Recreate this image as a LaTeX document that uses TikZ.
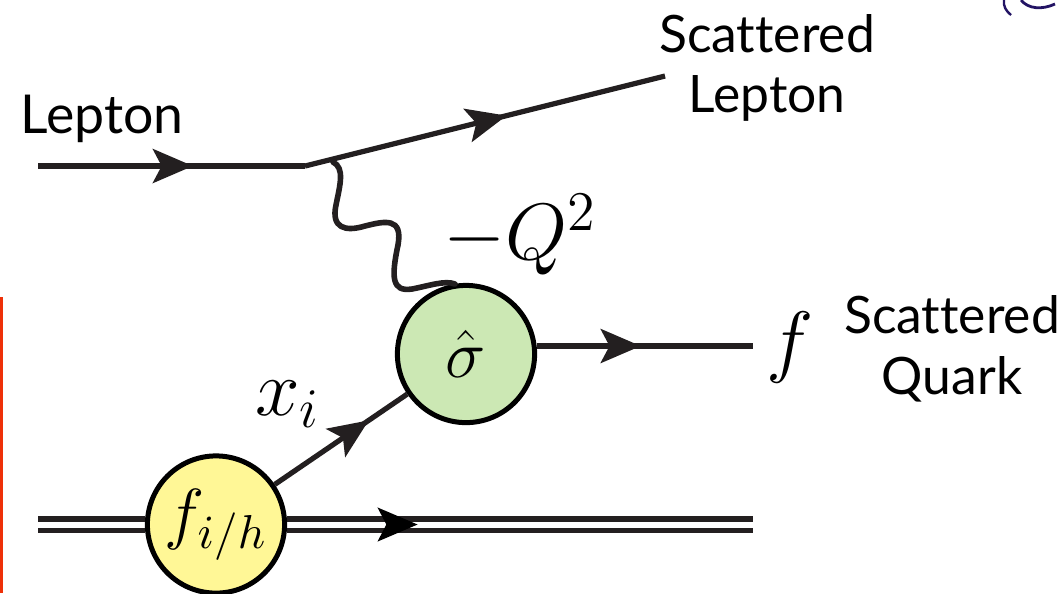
\documentclass[tikz,border=0pt]{standalone}
\usepackage{amsmath,amssymb}
\usepackage{xcolor}
\usepackage{fontspec}
\usepackage{fix-cm}
\setmainfont{Lato}[Ligatures=NoCommon]
\usetikzlibrary{arrows.meta,decorations.markings}
\definecolor{LineC}{RGB}{35,31,32}
\definecolor{HardC}{RGB}{204,232,180}
\definecolor{PdfC}{RGB}{255,247,150}
\definecolor{EdgeC}{RGB}{238,48,8}
\definecolor{MarkC}{RGB}{35,20,100}
\tikzset{
  blob/.style={circle,draw=black,line width=1.25pt,minimum size=34.3pt,inner sep=0pt,
               font=\fontsize{17}{19}\selectfont},
  label/.style={font=\fontsize{12.9}{15.2}\selectfont,align=center,text=black},
  mathlabel/.style={font=\fontsize{20}{22}\selectfont,text=black},
  fline/.style={line width=1.3pt,LineC},
  midtip/.style={postaction={decorate},decoration={markings,
      mark=at position #1 with {\arrow{Stealth[length=10pt,width=8.5pt,inset=2.2pt]}}}},
}
\begin{document}
\begin{tikzpicture}[x=0.25pt,y=-0.25pt]
  \useasboundingbox (0,0) rectangle (1061,593);
  % vertices
  \coordinate (lin) at (38,166);
  \coordinate (vtx) at (305,166);
  \coordinate (lout) at (665,76);
  \coordinate (qend) at (753,346);
  \coordinate (bt) at (38,524.5);
  \coordinate (be) at (753,524.5);
  \node[blob,fill=HardC] (hard) at (466,354) {$\hat\sigma$};
  \node[blob,fill=PdfC] (pdf) at (216,524.5) {$f_{i/h}$};
  % leptons
  \draw[fline,midtip=0.58] (lin) -- (vtx);
  \draw[fline,midtip=0.56] (vtx) -- (lout);
  % photon
  \coordinate (pha) at (333,162);
  \coordinate (phb) at (455,284);
  \draw[fline,line width=1.4pt,line cap=round] (pha) .. controls (345,168) and (340,185) .. (336,205)
    .. controls (331,228) and (345,232) .. (365,226)
    .. controls (385,221) and (403,217) .. (398,245)
    .. controls (391,278) and (392,292) .. (412,289)
    .. controls (428,286) and (445,280) .. (phb);
  % quarks
  \draw[fline,midtip=0.71] (pdf) -- (hard);
  \draw[fline,midtip=0.48] (hard.east) ++(0,-8) coordinate (hout) -- (qend);
  % beam
  \draw[fline] ([yshift=-1.4pt]bt) -- ([yshift=-1.4pt]pdf.west);
  \draw[fline] ([yshift=1.4pt]bt) -- ([yshift=1.4pt]pdf.west);
  \draw[fline] ([yshift=-1.4pt]pdf.east) -- ([yshift=-1.4pt]be);
  \draw[fline] ([yshift=1.4pt]pdf.east) -- ([yshift=1.4pt]be);
  \path[midtip=0.28] (pdf.east) -- (be);
  % texts
  \node[label,font=\fontsize{13.4}{15}\selectfont] (llep) at (102,119) {Lepton};
  \node[label] (slep) at (767,68) {Scattered\\Lepton};
  \node[label] (squark) at (952,349) {Scattered\\Quark};
  \node[mathlabel] (qsq) at (520,235) {$-Q^2$};
  \node[mathlabel] (ff) at (790,347) {$f$};
  \node[mathlabel] (xi) at (288,404) {$x_i$};
  % cropped bits at the edges
  \draw[EdgeC,line width=0.8pt] (1.5,297) -- (1.5,593);
  \draw[MarkC,line width=0.6pt] (1004,0) .. controls (1003,6) and (1006,11) .. (1011,15);
  \draw[MarkC,line width=0.7pt] (1021,0) .. controls (1028,9) and (1042,10) .. (1055,4);
\end{tikzpicture}
\end{document}
